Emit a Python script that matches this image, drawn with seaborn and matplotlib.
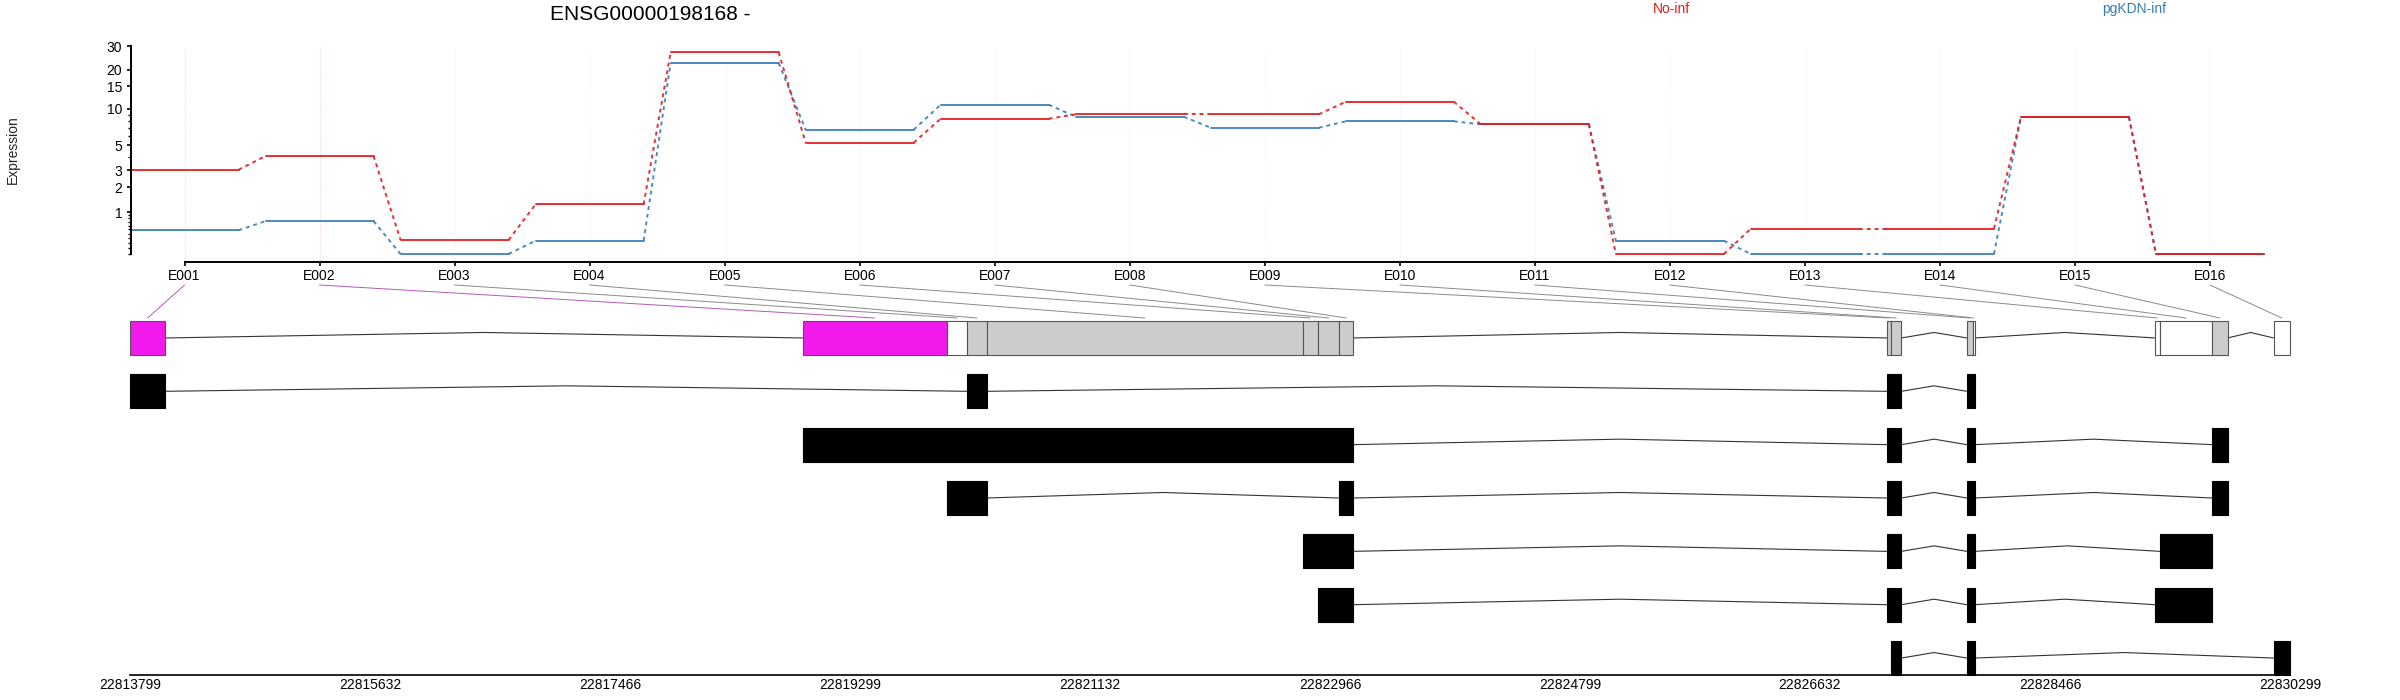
import numpy as np
import pandas as pd
import matplotlib
matplotlib.use("Agg")
import matplotlib.pyplot as plt
import seaborn as sns
from matplotlib.patches import Rectangle, ConnectionPatch

# ---- data ----
gene_id = "ENSG00000198168 -"
conditions = ["No-inf", "pgKDN-inf"]
cond_colors = {"No-inf": "#E41A1C", "pgKDN-inf": "#377EB8"}

exon_ids = ["E001", "E002", "E003", "E004", "E005", "E006", "E007", "E008",
            "E009", "E010", "E011", "E012", "E013", "E014", "E015", "E016"]
no_inf = [3.02, 4.04, 0.26, 1.27, 26.9, 5.28, 8.33, 9.03,
          9.03, 11.35, 7.51, 0.0, 0.52, 0.52, 8.6, 0.0]
pgkdn_inf = [0.48, 0.72, 0.0, 0.245, 22.4, 6.78, 10.76, 8.65,
             7.04, 7.94, 7.51, 0.245, 0.0, 0.0, 8.6, 0.0]

# exon bins in genomic coordinates
bin_start = [22813799, 22818937, 22820039, 22820195, 22820343, 22822756, 22822873, 22823037,
             22827218, 22827253, 22827830, 22827877, 22829268, 22829304, 22829705, 22830173]
bin_end = [22814069, 22820039, 22820195, 22820343, 22822756, 22822873, 22823037, 22823141,
           22827253, 22827331, 22827877, 22827889, 22829304, 22829705, 22829823, 22830299]
# sig = significant, tested = tested not sig, none = not tested
bin_status = ["sig", "sig", "none", "tested", "tested", "tested", "tested", "tested",
              "tested", "tested", "tested", "none", "none", "none", "tested", "none"]

# transcripts: exons given as (first bin, last bin), 1-based
transcripts = [
    [(1, 1), (4, 4), (9, 10), (11, 12)],
    [(2, 8), (9, 10), (11, 12), (15, 15)],
    [(3, 4), (8, 8), (9, 10), (11, 12), (15, 15)],
    [(6, 8), (9, 10), (11, 12), (14, 14)],
    [(7, 8), (9, 10), (11, 12), (13, 14)],
    [(10, 10), (11, 12), (16, 16)],
]

status_fill = {"sig": "#F219ED", "tested": "#CCCCCC", "none": "white"}

# ---- style ----
sns.set_theme(style="ticks")
plt.rcParams["font.family"] = ["Liberation Sans", "DejaVu Sans"]
plt.rcParams["axes.edgecolor"] = "black"
plt.rcParams["xtick.color"] = "black"
plt.rcParams["ytick.color"] = "black"
plt.rcParams["text.color"] = "black"

W, H = 2400, 700
fig = plt.figure(figsize=(24, 7), dpi=100)

# top panel: expression per exon bin
ax = fig.add_axes([130.5 / W, 1 - 254 / H, (2264 - 130.5) / W, 208 / H])

rows = []
for cond, vals in zip(conditions, [no_inf, pgkdn_inf]):
    for i, v in enumerate(vals):
        idx = i + 1
        rows.append((cond, "exon", f"{cond}-e{idx}", idx - 0.4, v))
        rows.append((cond, "exon", f"{cond}-e{idx}", idx + 0.4, v))
        if i < len(vals) - 1:
            rows.append((cond, "gap", f"{cond}-g{idx}", idx + 0.4, v))
            rows.append((cond, "gap", f"{cond}-g{idx}", idx + 0.6, vals[i + 1]))
df = pd.DataFrame(rows, columns=["condition", "kind", "unit", "x", "expr"])

sns.lineplot(data=df, x="x", y="expr", hue="condition", style="kind", units="unit",
             estimator=None, sort=False, hue_order=["pgKDN-inf", "No-inf"],
             palette=cond_colors, dashes={"exon": "", "gap": (2, 2)},
             linewidth=1.4, alpha=0.9, legend=False, ax=ax)
for ln in ax.lines:
    ln.set_clip_on(False)

ax.set_yscale("function", functions=(lambda v: np.log10(np.asarray(v) + 1),
                                     lambda y: 10 ** np.asarray(y) - 1))
ax.set_xlim(0.6, 16.4)
ax.set_ylim(0, 30)

major = [1, 2, 3, 5, 10, 15, 20, 30]
minor = [0, 0.1, 0.2, 0.3, 0.4, 0.5, 0.6, 0.7, 0.8, 0.9, 4, 6, 7, 8, 9]
ax.set_yticks(major, labels=[str(m) for m in major])
ax.set_yticks(minor, minor=True)
ax.set_xticks(range(1, 17), labels=exon_ids)
ax.tick_params(axis="y", which="major", length=3, width=1.2, pad=3, labelsize=10)
ax.tick_params(axis="y", which="minor", length=2, width=1.0)
ax.tick_params(axis="x", which="major", length=3, width=1.2, pad=2, labelsize=10)
ax.tick_params(axis="x", which="minor", length=0)

sns.despine(ax=ax)
ax.spines["bottom"].set_position(("outward", 6))
ax.spines["bottom"].set_bounds(1, 16)
ax.spines["left"].set_bounds(0, 30)
ax.spines["bottom"].set_linewidth(1.4)
ax.spines["left"].set_linewidth(1.4)
ax.set_xlabel("")
ax.set_ylabel("Expression", fontsize=10)
ax.yaxis.set_label_coords((20 - 130.5) / (2264 - 130.5), 0.5)

for i, st in enumerate(bin_status):
    gcol = "#F9C6E4" if st == "sig" else "#EFEFEF"
    ax.axvline(i + 1, ymin=-0.03, ymax=1.0, color=gcol, ls=":", lw=0.7,
               zorder=0, clip_on=False)

# bottom panel: gene model
gene_start, gene_end = min(bin_start), max(bin_end)
gx = fig.add_axes([130 / W, 1 - 675 / H, (2290 - 130) / W, (675 - 321) / H])
gx.set_xlim(gene_start, gene_end)
half = 0.318
gx.set_ylim(-6 - half, half)
hat = 0.103


def draw_row(ax_, exons, yc, face, edge):
    exons = sorted(exons)
    for s, e in exons:
        ax_.add_patch(Rectangle((s, yc - half), e - s, 2 * half, facecolor=face,
                                edgecolor=edge, lw=0.8, clip_on=False, zorder=3))
    for (s0, e0), (s1, e1) in zip(exons[:-1], exons[1:]):
        if s1 > e0:
            mid = (e0 + s1) / 2
            ax_.plot([e0, mid, s1], [yc, yc + hat, yc], color="#333333", lw=0.8,
                     clip_on=False, zorder=2)


# exon bin row: individual coloured bins, introns between separated blocks
for s, e, st in zip(bin_start, bin_end, bin_status):
    gx.add_patch(Rectangle((s, -half), e - s, 2 * half, facecolor=status_fill[st],
                           edgecolor="#555555", lw=0.8, clip_on=False, zorder=3))
for k in range(len(bin_start) - 1):
    if bin_start[k + 1] > bin_end[k]:
        mid = (bin_end[k] + bin_start[k + 1]) / 2
        gx.plot([bin_end[k], mid, bin_start[k + 1]], [0, hat, 0], color="#333333",
                lw=0.8, clip_on=False, zorder=2)

for r, tx in enumerate(transcripts, start=1):
    exons = [(bin_start[a - 1], bin_end[b - 1]) for a, b in tx]
    draw_row(gx, exons, -r, "black", "black")

ticks = np.round(np.linspace(gene_start, gene_end, 10)).astype(int)
gx.set_xticks(ticks, labels=[str(t) for t in ticks])
gx.set_yticks([])
gx.tick_params(axis="x", length=0, pad=2, labelsize=10)
for side in ["left", "top", "right"]:
    gx.spines[side].set_visible(False)
gx.spines["bottom"].set_linewidth(1.2)

# connectors from exon labels to bins
for i, (s, e, st) in enumerate(zip(bin_start, bin_end, bin_status)):
    ccol = "#B45AB4" if st == "sig" else "#8A8A8A"
    con = ConnectionPatch(xyA=(i + 1, (254 - 285) / 208), coordsA=ax.get_xaxis_transform(),
                          xyB=((s + e) / 2, half + 3 / 53.35), coordsB=gx.transData,
                          color=ccol, lw=0.7)
    fig.add_artist(con)

# title and condition labels
fig.text(650 / W, 1 - 15 / H, gene_id, ha="center", va="center", fontsize=15)
fig.text(1671 / W, 1 - 9 / H, "No-inf", ha="center", va="center", fontsize=10,
         color=cond_colors["No-inf"])
fig.text(2134 / W, 1 - 9 / H, "pgKDN-inf", ha="center", va="center", fontsize=10,
         color=cond_colors["pgKDN-inf"])

fig.savefig("out.png", dpi=100)
